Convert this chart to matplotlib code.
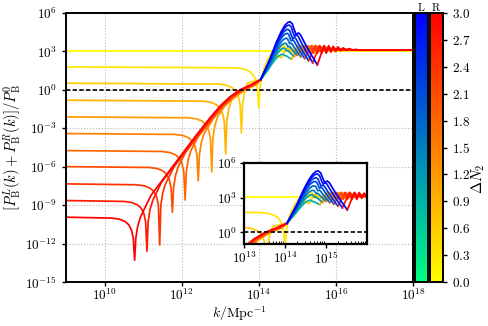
import numpy as np
import matplotlib
matplotlib.use("Agg")
import matplotlib.pyplot as plt
from matplotlib import ticker, colors
from matplotlib.cm import ScalarMappable

plt.rcParams['mathtext.fontset'] = 'cm'
plt.rcParams['font.family'] = 'serif'

# ---------------- data (log10 values) ----------------
dN2 = [0.0, 0.3, 0.6, 0.9, 1.2, 1.5, 1.8, 2.1, 2.4, 2.7, 3.0]
flat_level = [3.06, 1.79, 0.52, -0.81, -2.11, -3.41, -4.74, -5.99, -7.34, -8.64, -9.94]
dip_k = [np.nan, 14.0, 13.55, 13.14, 12.78, 12.43, 12.09, 11.76, 11.43, 11.10, 10.78]
dip_y = [np.nan, -1.43, -3.38, -5.0, -6.4, -7.1, -8.6, -9.55, -12.1, -12.6, -13.3]
fan_shift = [0.0, 0.18, 0.16, 0.14, 0.12, 0.10, 0.08, 0.06, 0.04, 0.02, 0.0]

# dip shape (offsets from dip position / flat level)
dipL_dk = [-0.6, -0.4, -0.25, -0.15, -0.08, -0.035]
dipL_dy = [-0.07, -0.15, -0.33, -0.6, -1.02, -1.65]
dipR_dk = [0.03, 0.08, 0.15]
dipR_dy = [-1.66, -0.7, 0.0]

# common rising envelope and pinch point
env_k = [10.95, 11.2, 11.45, 11.77, 12.05, 12.35, 12.73, 13.0, 13.25, 13.51, 13.8]
env_y = [-9.25, -8.25, -7.25, -5.97, -4.85, -3.65, -2.2, -1.25, -0.55, 0.0, 0.4]
pinch_k, pinch_y = 14.05, 0.8

# left-handed peaks (index 3..10)
peak_k = {3: 14.62, 4: 14.66, 5: 14.69, 6: 14.72, 7: 14.74, 8: 14.76, 9: 14.79, 10: 14.81}
peak_y = {3: 2.78, 4: 3.25, 5: 3.64, 6: 4.03, 7: 4.41, 8: 4.73, 9: 5.06, 10: 5.32}
valley_k = {3: 14.85, 4: 14.92, 5: 15.0, 6: 15.09, 7: 15.19, 8: 15.29, 9: 15.40, 10: 15.52}
valley_y = {3: 2.4, 4: 2.6, 5: 2.7, 6: 2.58, 7: 2.45, 8: 2.28, 9: 2.12, 10: 1.95}
rise_fk = [0.33, 0.53, 0.70, 0.83, 0.93, 1.0]
rise_fy = [0.375, 0.64, 0.83, 0.94, 0.99, 1.0]
post_fk = [0.085, 0.155, 0.225, 0.31, 0.38, 0.55, 0.76, 1.0]
post_fy = [0.05, 0.184, 0.30, 0.26, 0.30, 0.51, 0.75, 1.0]

# oscillating tail after the valley
tail_dk = [0.17, 0.23, 0.29, 0.35, 0.41, 0.47, 0.53, 0.60, 0.67, 0.74, 0.82, 0.90, 1.0, 1.1]
tail_y = [3.45, 2.85, 3.45, 2.95, 3.40, 3.0, 3.35, 3.05, 3.28, 3.08, 3.22, 3.10, 3.16, 3.10]
end_level = 3.1

# small-dN2 curves after the dip (right-handed only)
c1_k = [14.25, 14.38, 14.5, 14.58, 14.66, 14.74, 14.82, 14.92, 15.05, 15.2, 15.35]
c1_y = [2.5, 3.05, 3.4, 3.2, 3.45, 3.0, 3.3, 3.0, 3.2, 3.08, 3.1]
c2_k = [14.25, 14.4, 14.5, 14.58, 14.66, 14.75, 14.85, 14.95, 15.05, 15.18, 15.3]
c2_y = [1.9, 2.5, 2.7, 2.5, 2.95, 3.3, 2.9, 3.25, 3.0, 3.15, 3.1]

cmapL = plt.get_cmap('winter_r')
cmapR = plt.get_cmap('autumn_r')
norm = colors.Normalize(0, 3)


def r_part(j):
    c = flat_level[j]
    if j == 0:
        return [(9.0, c), (18.0, c)]
    kd, dd = dip_k[j], dip_y[j]
    pts = [(9.0, c)]
    pts += [(kd + a, c + b) for a, b in zip(dipL_dk, dipL_dy)]
    pts += [(kd, dd)]
    pts += [(kd + a, c + b) for a, b in zip(dipR_dk, dipR_dy)]
    for ek, ey in zip(env_k, env_y):
        k = ek + fan_shift[j]
        if k > kd + 0.25 and ey > pts[-1][1]:
            pts.append((k, ey))
    if pinch_k > pts[-1][0]:
        pts.append((pinch_k, pinch_y))
    return pts


def segments(j):
    """Return list of (points, color)."""
    segs = []
    R = r_part(j)
    colR = cmapR(norm(dN2[j]))
    colL = cmapL(norm(dN2[j]))
    if j == 0:
        return [(R, colR)]
    if j == 1:
        R = R + list(zip(c1_k, c1_y)) + [(18.0, end_level)]
        return [(R, colR)]
    if j == 2:
        R = R + list(zip(c2_k, c2_y)) + [(18.0, end_level)]
        return [(R, colR)]
    segs.append((R, colR))
    kp, H = peak_k[j], peak_y[j]
    kv, V = valley_k[j], valley_y[j]
    L = [(pinch_k, pinch_y)]
    L += [(pinch_k + a * (kp - pinch_k), pinch_y + b * (H - pinch_y)) for a, b in zip(rise_fk, rise_fy)]
    L += [(kp + a * (kv - kp), H - b * (H - V)) for a, b in zip(post_fk, post_fy)]
    segs.append((L, colL))
    T = [(kv, V)] + [(kv + a, b) for a, b in zip(tail_dk, tail_y)] + [(18.0, end_level)]
    segs.append((T, colR))
    return segs


def draw(ax, lw):
    for j in range(len(dN2)):
        for pts, col in segments(j):
            k = np.array([p[0] for p in pts])
            y = np.array([p[1] for p in pts])
            ax.plot(10.0 ** k, 10.0 ** y, color=col, lw=lw, solid_joinstyle='round')
    ax.axhline(1.0, color='k', lw=1.2, dashes=(2.6, 1.4), zorder=5)


def logfmt(v, _):
    return r'$10^{%d}$' % int(round(np.log10(v)))


fig = plt.figure(figsize=(4.89, 3.26), dpi=100)
ax = fig.add_axes([66 / 489, 44 / 326, 347 / 489, 269 / 326])
ax.set_xscale('log')
ax.set_yscale('log')
draw(ax, 1.25)
ax.set_xlim(1e9, 1e18)
ax.set_ylim(1e-15, 1e6)
ax.set_xticks([10.0 ** e for e in range(10, 19, 2)])
ax.set_yticks([10.0 ** e for e in range(-15, 7, 3)])
ax.xaxis.set_minor_locator(ticker.NullLocator())
ax.yaxis.set_minor_locator(ticker.NullLocator())
ax.xaxis.set_major_formatter(ticker.FuncFormatter(logfmt))
ax.yaxis.set_major_formatter(ticker.FuncFormatter(logfmt))
ax.tick_params(labelsize=9.5, length=3, width=1, direction='out')
ax.tick_params(axis='x', pad=1)
ax.grid(True, which='major', ls=':', color='0.72', lw=0.8)
for s in ax.spines.values():
    s.set_linewidth(1.4)
ax.set_xlabel(r'$k/\mathrm{Mpc}^{-1}$', fontsize=10, va='center')
ax.xaxis.set_label_coords(0.5, -0.117)
ax.set_ylabel(r'$[P^{L}_{\rm B}(k)+P^{R}_{\rm B}(k)]/P^{0}_{\rm B}$', fontsize=10.5, labelpad=1)

# inset
axi = fig.add_axes([244 / 489, 82 / 326, 123 / 489, 81 / 326])
axi.set_xscale('log')
axi.set_yscale('log')
draw(axi, 1.25)
axi.set_xlim(1e13, 1e16)
axi.set_ylim(1e-1, 1e6)
axi.set_xticks([1e13, 1e14, 1e15])
axi.set_yticks([1e0, 1e3, 1e6])
axi.xaxis.set_minor_locator(ticker.LogLocator(base=10, subs=np.arange(2, 10) * 1.0, numticks=20))
axi.yaxis.set_minor_locator(ticker.NullLocator())
axi.xaxis.set_major_formatter(ticker.FuncFormatter(logfmt))
axi.xaxis.set_minor_formatter(ticker.NullFormatter())
axi.yaxis.set_major_formatter(ticker.FuncFormatter(logfmt))
axi.tick_params(labelsize=9.5, length=3, width=1, direction='out', pad=2)
axi.tick_params(which='minor', length=2, width=0.7, direction='in')
for s in axi.spines.values():
    s.set_linewidth(1.6)

# colorbars
caxL = fig.add_axes([415 / 489, 44 / 326, 13 / 489, 269 / 326])
caxR = fig.add_axes([430 / 489, 44 / 326, 13 / 489, 269 / 326])
cbL = fig.colorbar(ScalarMappable(norm=norm, cmap=cmapL), cax=caxL)
cbR = fig.colorbar(ScalarMappable(norm=norm, cmap=cmapR), cax=caxR)
cbL.set_ticks([])
cb_ticks = [0.0, 0.3, 0.6, 0.9, 1.2, 1.5, 1.8, 2.1, 2.4, 2.7, 3.0]
cbR.set_ticks(cb_ticks)
cbR.ax.yaxis.set_major_formatter(ticker.FuncFormatter(lambda v, _: r'$%.1f$' % v))
cbR.ax.tick_params(labelsize=9.5, length=3, width=1)
for cb in (cbL, cbR):
    cb.outline.set_linewidth(1.4)
fig.text(421.5 / 489, 319 / 326, r'$\mathrm{L}$', ha='center', va='center', fontsize=8)
fig.text(436.5 / 489, 319 / 326, r'$\mathrm{R}$', ha='center', va='center', fontsize=8)
fig.text(478 / 489, 147 / 326, r'$\Delta N_2$', rotation=90, ha='center', va='center', fontsize=10.5)

fig.savefig('out.png', dpi=100)
